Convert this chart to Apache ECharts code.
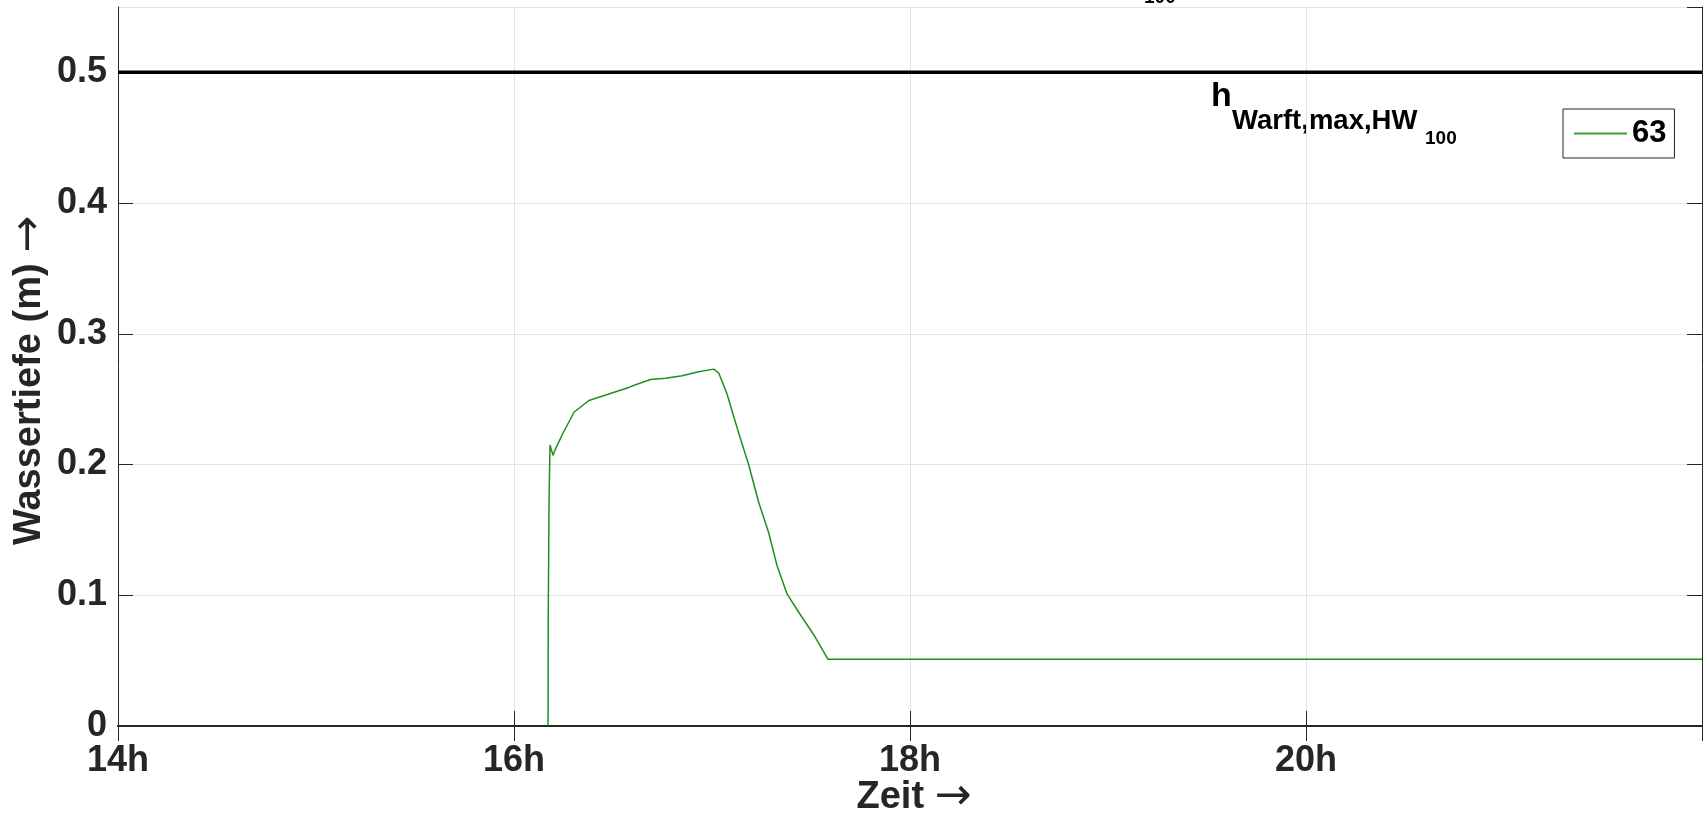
<!DOCTYPE html>
<html>
<head>
<meta charset="utf-8">
<title>Wassertiefe</title>
<script src="https://cdn.jsdelivr.net/npm/echarts@6/dist/echarts.min.js"></script>
<style>
    html, body { margin: 0; padding: 0; background: #fff; }
    #chart { width: 1704px; height: 832px; }
</style>
</head>
<body>
<div id="chart"></div>
<script>
// Zeitachse in Stunden, Wassertiefe in m
const zeitStunden = [16.172, 16.173, 16.177, 16.182, 16.197, 16.207, 16.244, 16.303, 16.378,
    16.479, 16.58, 16.614, 16.689, 16.765, 16.849, 16.933, 17.009, 17.034, 17.076,
    17.135, 17.185, 17.236, 17.286, 17.328, 17.379, 17.438, 17.513, 17.586, 22];
const wassertiefe = [0, 0.085, 0.173, 0.215, 0.207, 0.211, 0.223, 0.240, 0.249,
    0.254, 0.259, 0.261, 0.265, 0.266, 0.268, 0.271, 0.273, 0.270, 0.254,
    0.224, 0.200, 0.171, 0.148, 0.123, 0.101, 0.087, 0.070, 0.051, 0.051];

// Grenzwert h_Warft,max,HW100
const grenzZeit = [14, 22];
const grenzWert = [0.5, 0.5];

const xTicks = [14, 16, 18, 20, 22];
const xTickLabels = ['14h', '16h', '18h', '20h', ''];
const yTicks = [0, 0.1, 0.2, 0.3, 0.4, 0.5];
const yTickLabels = ['0', '0.1', '0.2', '0.3', '0.4', '0.5'];

const serienName = '63';

const FONT = "'Liberation Sans', Arial, Helvetica, sans-serif";
const TEXT = '#262626';

function tickLabel(ticks, labels) {
    return function (v) {
        const i = ticks.findIndex(t => Math.abs(t - v) < 1e-6);
        return i === -1 ? '' : labels[i];
    };
}

const chart = echarts.init(document.getElementById('chart'));

// Pfeil im Achsentitel etwas duenner und groesser
const pfeilStil = { fontFamily: "'DejaVu Sans'", fontWeight: 'normal', fontSize: 44, color: TEXT };

const boxAxis = {
    axisLine: { show: true, lineStyle: { color: TEXT, width: 1 } },
    axisTick: { show: true, inside: true, length: 15, lineStyle: { color: TEXT } },
    axisLabel: { show: false },
    splitLine: { show: false }
};

const option = {
    animation: false,
    backgroundColor: '#fff',
    grid: { left: 118, right: 2, top: 7, bottom: 106, outerBoundsMode: 'none', containLabel: false },
    legend: {
        data: [serienName],
        left: 1563,
        top: 109,
        padding: [9, 8, 9, 11],
        backgroundColor: '#fff',
        borderColor: TEXT,
        borderWidth: 1,
        borderRadius: 0,
        icon: 'rect',
        itemWidth: 53,
        itemHeight: 2,
        itemGap: 6,
        textStyle: { fontFamily: FONT, fontWeight: 'bold', fontSize: 31, color: '#000' }
    },
    xAxis: [
        {
            type: 'value',
            min: 14,
            max: 22,
            interval: 2,
            name: 'Zeit {a|→}',
            nameLocation: 'middle',
            nameGap: 50,
            nameMoveOverlap: false,
            nameTextStyle: {
                fontFamily: FONT, fontWeight: 'bold', fontSize: 38, color: TEXT,
                padding: [0, 0, 0, 8],
                rich: { a: pfeilStil }
            },
            axisLine: { show: true, onZero: false, lineStyle: { color: TEXT, width: 2 } },
            axisTick: { show: true, inside: true, length: 15, lineStyle: { color: TEXT } },
            axisLabel: {
                formatter: tickLabel(xTicks, xTickLabels),
                fontFamily: FONT, fontWeight: 'bold', fontSize: 36, color: TEXT,
                margin: 17, showMaxLabel: false
            },
            splitLine: { show: true, lineStyle: { color: '#e3e3e3', width: 1 } }
        },
        Object.assign({ type: 'value', position: 'top', min: 14, max: 22, interval: 2 }, boxAxis)
    ],
    yAxis: [
        {
            type: 'value',
            min: 0,
            max: 0.55,
            interval: 0.1,
            name: 'Wassertiefe (m) {a|→}',
            nameLocation: 'middle',
            nameRotate: 90,
            nameGap: 66,
            nameMoveOverlap: false,
            nameTextStyle: {
                fontFamily: FONT, fontWeight: 'bold', fontSize: 38, color: TEXT,
                padding: [0, 28, 0, 0],
                rich: { a: pfeilStil }
            },
            axisLine: { show: true, onZero: false, lineStyle: { color: TEXT, width: 1 } },
            axisTick: { show: true, inside: true, length: 15, lineStyle: { color: TEXT } },
            axisLabel: {
                formatter: tickLabel(yTicks, yTickLabels),
                fontFamily: FONT, fontWeight: 'bold', fontSize: 36, color: TEXT,
                margin: 11, showMaxLabel: false
            },
            splitLine: { show: true, lineStyle: { color: '#e3e3e3', width: 1 } }
        },
        Object.assign({ type: 'value', position: 'right', min: 0, max: 0.55, interval: 0.1 }, boxAxis)
    ],
    series: [
        {
            name: 'grenze',
            type: 'line',
            data: grenzZeit.map((t, i) => [t, grenzWert[i]]),
            showSymbol: false,
            lineStyle: { color: '#000', width: 3.5 },
            z: 3,
            silent: true
        },
        {
            name: serienName,
            type: 'line',
            data: zeitStunden.map((t, i) => [t, wassertiefe[i]]),
            showSymbol: false,
            color: '#3aa03a',
            lineStyle: { color: '#1f8f1f', width: 1.5 },
            z: 4
        }
    ],
    graphic: [
        // Beschriftung des Grenzwertes
        { type: 'text', left: 1211, top: 80, style: { text: 'h', font: 'bold 34px ' + FONT, fill: '#000' } },
        { type: 'text', left: 1232, top: 107, style: { text: 'Warft,max,HW', font: 'bold 27.5px ' + FONT, fill: '#000' } },
        { type: 'text', left: 1425, top: 129, style: { text: '100', font: 'bold 19px ' + FONT, fill: '#000' } },
        // abgeschnittener Index oberhalb der Achse
        { type: 'text', left: 1144, top: -12, style: { text: '100', font: 'bold 19px ' + FONT, fill: '#000' } }
    ]
};

chart.setOption(option);
</script>
</body>
</html>
